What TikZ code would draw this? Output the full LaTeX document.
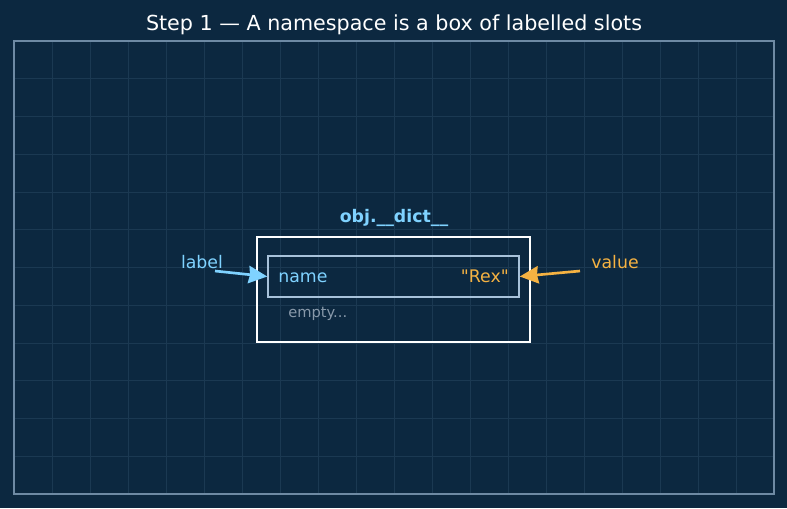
\documentclass[tikz,border=0pt]{standalone}
\usepackage{fontspec}
\setmainfont{DejaVu Sans}[Ligatures=TeXOff]
\usetikzlibrary{arrows.meta}

\definecolor{bgnavy}{RGB}{12,40,64}
\definecolor{gridline}{RGB}{27,57,82}
\definecolor{framegray}{RGB}{110,138,164}
\definecolor{keyblue}{RGB}{127,210,255}
\definecolor{valorange}{RGB}{245,178,66}
\definecolor{slotgray}{RGB}{168,194,218}
\definecolor{hintgray}{RGB}{136,153,170}

\tikzset{
  dictbox/.style={draw=white, line width=2.2pt, minimum width=204.75pt, minimum height=78.75pt, inner sep=0pt},
  slotbox/.style={draw=slotgray, line width=1.1pt, minimum width=188.25pt, minimum height=30.75pt, inner sep=0pt},
  txt/.style={font=\fontsize{13}{15}\selectfont, inner sep=0pt},
  pointer/.style={line width=2pt, -{Stealth[length=14pt,width=13pt,inset=1pt]}},
}

\begin{document}
\begin{tikzpicture}[x=0.75pt,y=0.75pt,yscale=-1,xscale=1]
% background
\path[fill=bgnavy] (0,0) rectangle (787,508);

% grid
\foreach \i in {1,...,19}
  \draw[gridline, line width=0.5pt] (14+38*\i,41) -- (14+38*\i,494);
\foreach \j in {1,...,11}
  \draw[gridline, line width=0.5pt] (14,41+37.75*\j) -- (774,41+37.75*\j);

% frame
\draw[framegray, line width=1.2pt] (14,41) rectangle (774,494);

% Title
\node (title) at (394,30.5) [anchor=base, text=white, font=\fontsize{15.5}{18}\selectfont] {Step 1 — A namespace is a box of labelled slots};

% namespace box
\node (dict) [dictbox] at (393.5,289.5) {};
\node (dictname) at (394,222.5) [txt, anchor=base, text=keyblue, font=\fontsize{13}{15}\selectfont\bfseries] {obj.\_\_dict\_\_};

% slot
\node (slot) [slotbox] at (393.5,276.5) {};
\node (key) [txt, text=keyblue, anchor=base west] at (278,282.5) {name};
\node (val) [txt, text=valorange, anchor=base east] at (509,282.5) {"Rex"};
\node (hint) [txt, text=hintgray, anchor=base west, font=\fontsize{11}{13}\selectfont] at (288,317) {empty...};

% Text Node
\node (labeltxt) [txt, text=keyblue, anchor=base] at (202,268.5) {label};
% Text Node
\node (valuetxt) [txt, text=valorange, anchor=base] at (615,268.5) {value};

% pointers
\coordinate (labeltail) at (215,271);
\coordinate (valuetail) at (580,271);
\draw[pointer, keyblue] (labeltail) -- (slot.west);
\draw[pointer, valorange] (valuetail) -- (slot.east);
\end{tikzpicture}
\end{document}
